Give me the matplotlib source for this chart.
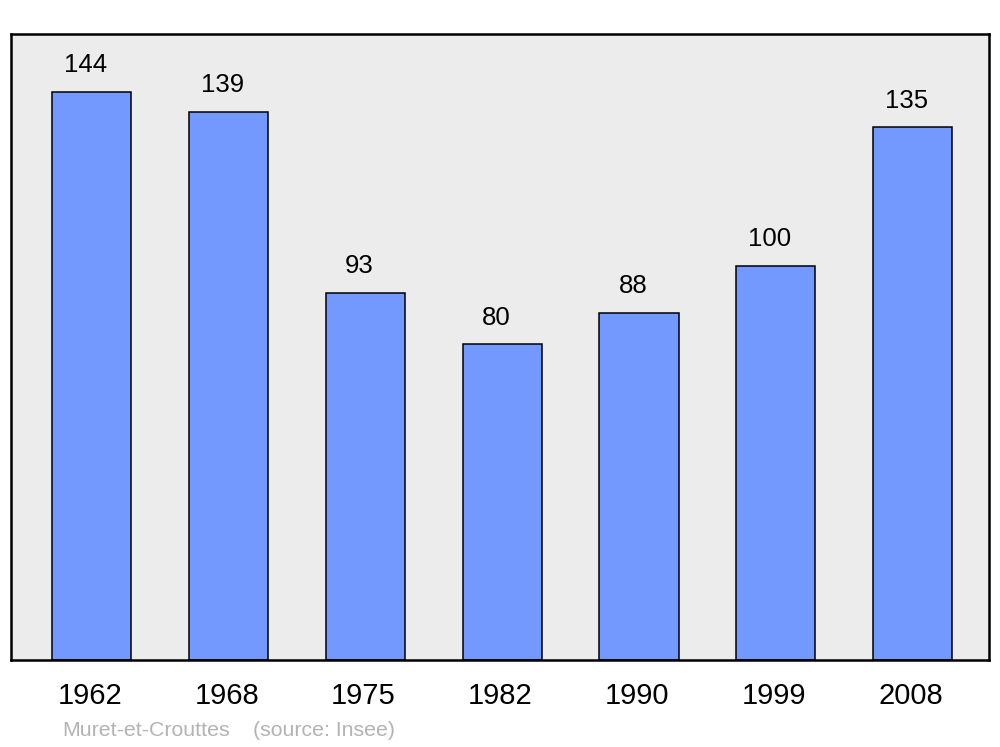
import matplotlib
matplotlib.use("Agg")
import matplotlib.pyplot as plt
from matplotlib.transforms import ScaledTranslation

plt.rcParams['font.family'] = ['Liberation Sans', 'DejaVu Sans']

# Données
annees = ["1962", "1968", "1975", "1982", "1990", "1999", "2008"]
population = [144, 139, 93, 80, 88, 100, 135]

fig = plt.figure(figsize=(10, 7.47), dpi=100)
ax = fig.add_axes([0.011, 1 - 660 / 747, 0.978, 626 / 747])
ax.set_facecolor("#ececec")

x = range(len(annees))
bars = ax.bar(x, population, width=0.578, color="#7399ff",
              edgecolor="black", linewidth=1.1, zorder=2)

# Valeurs au-dessus des barres (légèrement décalées à gauche)
for b, v in zip(bars, population):
    ax.annotate(str(v), (b.get_x() + b.get_width() / 2, v),
                xytext=(-4.3, 19.2), textcoords="offset points",
                ha="center", va="center", fontsize=18.5)

ax.set_xlim(-0.592, 6.559)
ax.set_ylim(0, 158.7)
ax.set_xticks(list(x))
ax.set_xticklabels(annees, fontsize=21)
ax.tick_params(axis="x", length=0, pad=16)
decal = ScaledTranslation(-2 / 100, 0, fig.dpi_scale_trans)
for lab in ax.get_xticklabels():
    lab.set_transform(lab.get_transform() + decal)
ax.set_yticks([])
for s in ax.spines.values():
    s.set_linewidth(1.8)
    s.set_joinstyle("round")

fig.text(0.062, 1 - 730 / 747, "Muret-et-Crouttes", color="#b3b3b3",
         fontsize=15.3, va="center", ha="left")
fig.text(0.253, 1 - 730 / 747, "(source: Insee)", color="#b3b3b3",
         fontsize=15.3, va="center", ha="left")

fig.savefig("out.png", dpi=100)
